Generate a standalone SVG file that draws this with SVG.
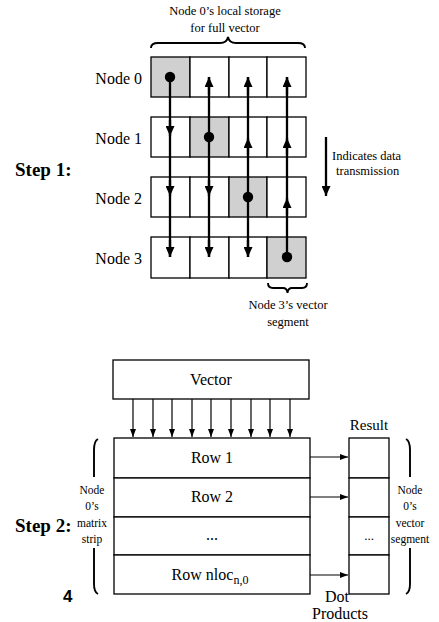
<svg xmlns="http://www.w3.org/2000/svg" width="439" height="622" viewBox="0 0 439 622">
<defs>
<style>
.t{font-family:"Liberation Serif","Times New Roman",serif;fill:#000}
.cell{fill:#fff;stroke:#000;stroke-width:1.3}
.sh{fill:#d0d0d0;stroke:#000;stroke-width:1.3}
.ln{stroke:#000;stroke-width:2.3;fill:none}
.thin{stroke:#000;stroke-width:1.2;fill:none}
.br{stroke:#000;stroke-width:1.9;fill:none}
</style>
<marker id="ah" viewBox="0 0 10 9" refX="10" refY="4.5" markerWidth="10" markerHeight="9" markerUnits="userSpaceOnUse" orient="auto"><path d="M0,0 L10,4.5 L0,9 z" fill="#000"/></marker>
<marker id="ahs" viewBox="0 0 8 6" refX="8" refY="3" markerWidth="8" markerHeight="6" markerUnits="userSpaceOnUse" orient="auto"><path d="M0,0 L8,3 L0,6 z" fill="#000"/></marker>
</defs>

<!-- Step 1 -->
<text class="t" x="15" y="176" font-size="19" font-weight="bold">Step 1:</text>
<text class="t" x="225" y="15" font-size="12.5" text-anchor="middle">Node 0’s local storage</text>
<text class="t" x="225" y="32" font-size="12.5" text-anchor="middle">for full vector</text>
<path class="br" d="M151,48 Q151,43 158,43 L220,43 Q227,43 228,37 Q229,43 236,43 L298,43 Q305,43 305,48"/>

<g id="node0">
<text class="t" x="142" y="84" font-size="16" text-anchor="end">Node 0</text>
<rect class="sh" x="151" y="57" width="39" height="40"/>
<rect class="cell" x="190" y="57" width="39" height="40"/>
<rect class="cell" x="229" y="57" width="38" height="40"/>
<rect class="cell" x="267" y="57" width="39" height="40"/>
</g>
<g id="node1">
<text class="t" x="142" y="144" font-size="16" text-anchor="end">Node 1</text>
<rect class="cell" x="151" y="117" width="39" height="40"/>
<rect class="sh" x="190" y="117" width="39" height="40"/>
<rect class="cell" x="229" y="117" width="38" height="40"/>
<rect class="cell" x="267" y="117" width="39" height="40"/>
</g>
<g id="node2">
<text class="t" x="142" y="204" font-size="16" text-anchor="end">Node 2</text>
<rect class="cell" x="151" y="177" width="39" height="40"/>
<rect class="cell" x="190" y="177" width="39" height="40"/>
<rect class="sh" x="229" y="177" width="38" height="40"/>
<rect class="cell" x="267" y="177" width="39" height="40"/>
</g>
<g id="node3">
<text class="t" x="142" y="264" font-size="16" text-anchor="end">Node 3</text>
<rect class="cell" x="151" y="237" width="39" height="41"/>
<rect class="cell" x="190" y="237" width="39" height="41"/>
<rect class="cell" x="229" y="237" width="38" height="41"/>
<rect class="sh" x="267" y="237" width="39" height="41"/>
</g>

<path class="br" d="M268,283 Q268,288 273,288 L283,288 Q287,288 287.5,293 Q288,288 292,288 L302,288 Q307,288 307,283"/>
<text class="t" x="288" y="309" font-size="12.5" text-anchor="middle">Node 3’s vector</text>
<text class="t" x="288" y="326" font-size="12.5" text-anchor="middle">segment</text>

<g id="legend">
<line class="ln" x1="326" y1="137" x2="326" y2="196" marker-end="url(#ah)"/>
<text class="t" x="332" y="160" font-size="12.5">Indicates data</text>
<text class="t" x="336" y="175" font-size="12.5">transmission</text>
</g>

<g id="connectors1">
<line class="ln" x1="170" y1="77" x2="170" y2="257"/>
<line class="ln" x1="209" y1="77" x2="209" y2="257"/>
<line class="ln" x1="248" y1="77" x2="248" y2="257"/>
<line class="ln" x1="287" y1="77" x2="287" y2="257"/>
<line class="ln" x1="170" y1="120" x2="170" y2="136" marker-end="url(#ah)"/>
<line class="ln" x1="170" y1="180" x2="170" y2="196" marker-end="url(#ah)"/>
<line class="ln" x1="170" y1="240" x2="170" y2="257" marker-end="url(#ah)"/>
<line class="ln" x1="209" y1="95" x2="209" y2="77" marker-end="url(#ah)"/>
<line class="ln" x1="209" y1="180" x2="209" y2="196" marker-end="url(#ah)"/>
<line class="ln" x1="209" y1="240" x2="209" y2="257" marker-end="url(#ah)"/>
<line class="ln" x1="248" y1="95" x2="248" y2="77" marker-end="url(#ah)"/>
<line class="ln" x1="248" y1="155" x2="248" y2="138" marker-end="url(#ah)"/>
<line class="ln" x1="248" y1="240" x2="248" y2="257" marker-end="url(#ah)"/>
<line class="ln" x1="287" y1="95" x2="287" y2="77" marker-end="url(#ah)"/>
<line class="ln" x1="287" y1="155" x2="287" y2="138" marker-end="url(#ah)"/>
<line class="ln" x1="287" y1="215" x2="287" y2="198" marker-end="url(#ah)"/>
<circle cx="170" cy="77" r="5.2"/>
<circle cx="209" cy="137" r="5.2"/>
<circle cx="248" cy="197" r="5.2"/>
<circle cx="287" cy="257" r="5.2"/>
</g>

<!-- Step 2 -->
<text class="t" x="15" y="532" font-size="19" font-weight="bold">Step 2:</text>

<g id="vector">
<rect class="cell" x="113" y="360" width="196" height="39"/>
<text class="t" x="211" y="385" font-size="16" text-anchor="middle">Vector</text>
</g>

<g id="matrix">
<rect class="cell" x="114" y="438" width="196" height="40"/>
<rect class="cell" x="114" y="478" width="196" height="39"/>
<rect class="cell" x="114" y="517" width="196" height="38"/>
<rect class="cell" x="114" y="555" width="196" height="39"/>
<text class="t" x="212" y="463" font-size="16" text-anchor="middle">Row 1</text>
<text class="t" x="212" y="502" font-size="16" text-anchor="middle">Row 2</text>
<text class="t" x="212" y="540" font-size="16" text-anchor="middle">...</text>
<text class="t" x="210" y="580" font-size="16" text-anchor="middle">Row nloc<tspan font-size="12" dy="4">n,0</tspan></text>
</g>

<g id="result">
<text class="t" x="369" y="430" font-size="15" text-anchor="middle">Result</text>
<rect class="cell" x="349" y="438" width="40" height="40"/>
<rect class="cell" x="349" y="478" width="40" height="39"/>
<rect class="cell" x="349" y="517" width="40" height="38"/>
<rect class="cell" x="349" y="555" width="40" height="39"/>
<text class="t" x="369" y="540" font-size="13" text-anchor="middle">...</text>
</g>

<g id="connectors2">
<line class="thin" x1="133" y1="399" x2="133" y2="437" marker-end="url(#ahs)"/>
<line class="thin" x1="153" y1="399" x2="153" y2="437" marker-end="url(#ahs)"/>
<line class="thin" x1="172" y1="399" x2="172" y2="437" marker-end="url(#ahs)"/>
<line class="thin" x1="192" y1="399" x2="192" y2="437" marker-end="url(#ahs)"/>
<line class="thin" x1="211" y1="399" x2="211" y2="437" marker-end="url(#ahs)"/>
<line class="thin" x1="231" y1="399" x2="231" y2="437" marker-end="url(#ahs)"/>
<line class="thin" x1="251" y1="399" x2="251" y2="437" marker-end="url(#ahs)"/>
<line class="thin" x1="270" y1="399" x2="270" y2="437" marker-end="url(#ahs)"/>
<line class="thin" x1="290" y1="399" x2="290" y2="437" marker-end="url(#ahs)"/>
<line class="thin" x1="310" y1="457" x2="348" y2="457" marker-end="url(#ahs)"/>
<line class="thin" x1="310" y1="497" x2="348" y2="497" marker-end="url(#ahs)"/>
<line class="thin" x1="310" y1="575" x2="348" y2="575" marker-end="url(#ahs)"/>
</g>

<g id="left-label">
<path class="br" d="M98,439 Q94,441 94,450 L94,477"/>
<path class="br" d="M94,548 L94,584 Q94,592 98,594"/>
<text class="t" x="92" y="494" font-size="11.5" text-anchor="middle">Node</text>
<text class="t" x="92" y="510" font-size="11.5" text-anchor="middle">0’s</text>
<text class="t" x="92" y="527" font-size="11.5" text-anchor="middle">matrix</text>
<text class="t" x="92" y="543" font-size="11.5" text-anchor="middle">strip</text>
</g>

<g id="right-label">
<path class="br" d="M406,439 Q410,441 410,450 L410,477"/>
<path class="br" d="M410,548 L410,584 Q410,592 406,594"/>
<text class="t" x="410" y="494" font-size="11.5" text-anchor="middle">Node</text>
<text class="t" x="410" y="510" font-size="11.5" text-anchor="middle">0’s</text>
<text class="t" x="410" y="527" font-size="11.5" text-anchor="middle">vector</text>
<text class="t" x="410" y="543" font-size="11.5" text-anchor="middle">segment</text>
</g>

<text class="t" x="337" y="602" font-size="16" text-anchor="middle">Dot</text>
<text class="t" x="340" y="619" font-size="16" text-anchor="middle">Products</text>
<text x="63" y="602" font-size="17" font-weight="bold" font-family="Liberation Sans, Arial, sans-serif">4</text>
</svg>
